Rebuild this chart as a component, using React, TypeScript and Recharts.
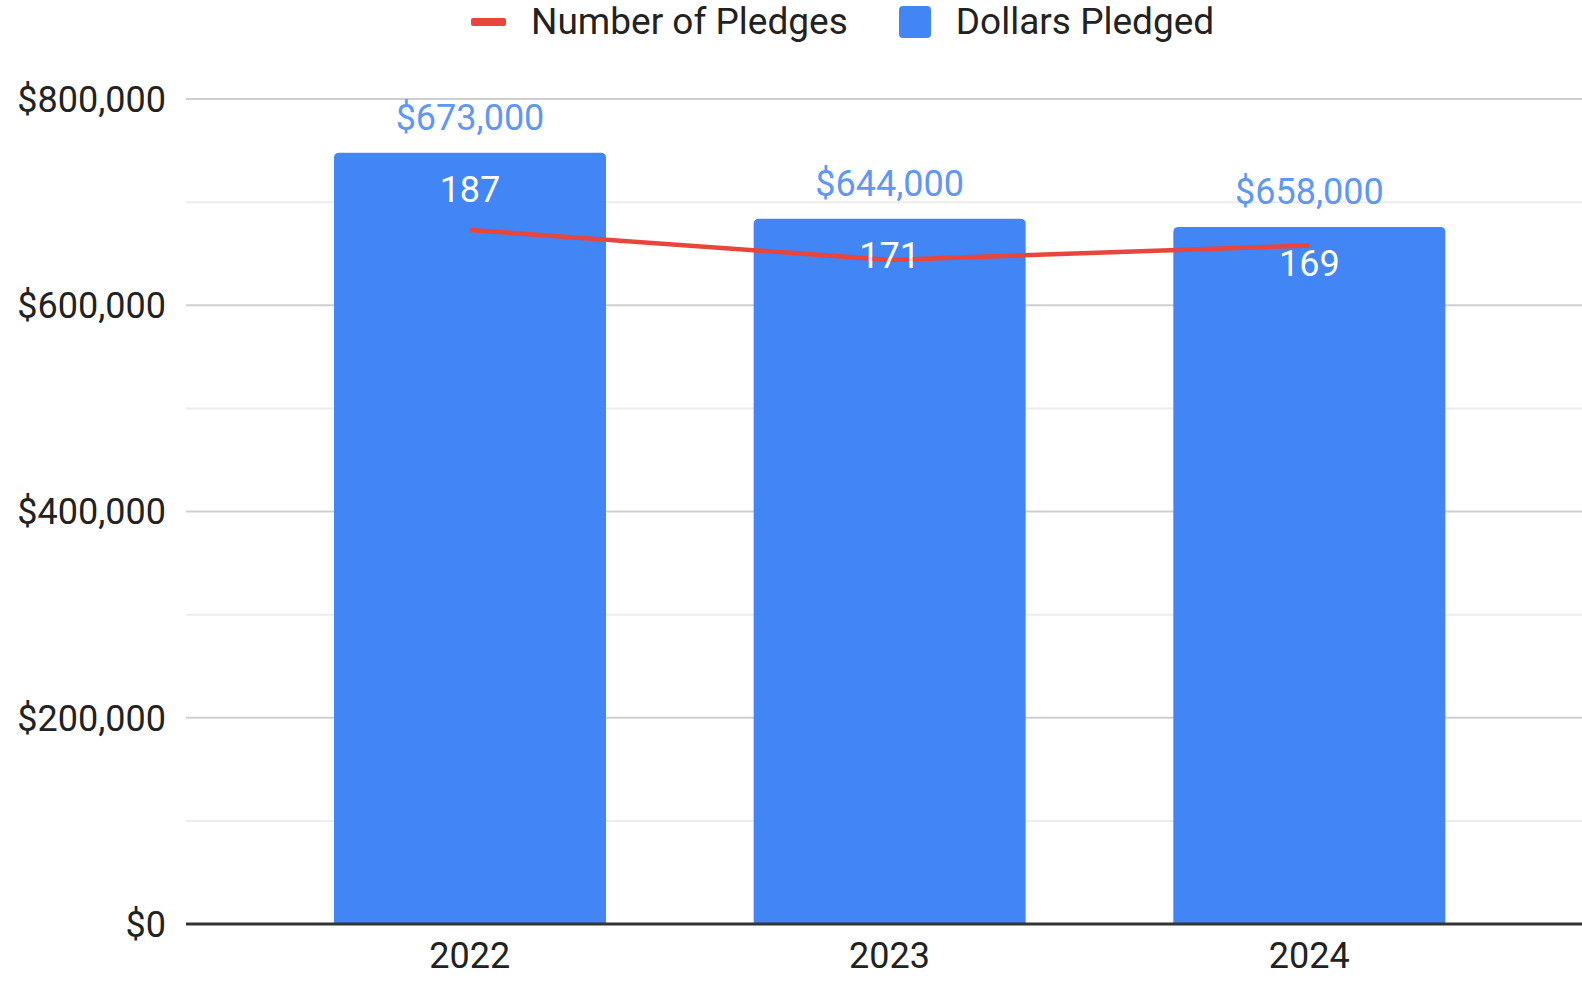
import { Bar, CartesianGrid, ComposedChart, LabelList, Line, XAxis, YAxis } from "recharts";

const years = ["2022", "2023", "2024"];
const pledgeCounts = [187, 171, 169];
const dollarsPledged = [673000, 644000, 658000];
const dollarTicks = [0, 200000, 400000, 600000, 800000];
const minorGridValues = [100000, 300000, 500000, 700000];
const legendItems = [
  { name: "Number of Pledges", color: "#e8453c", kind: "line" },
  { name: "Dollars Pledged", color: "#4285f4", kind: "box" },
];

const data = years.map((year, i) => ({ year, count: pledgeCounts[i], dollars: dollarsPledged[i] }));

const font = "Roboto, 'Noto Sans', sans-serif";
const tick = { fill: "#222", fontSize: 36, fontFamily: font };
const money = (v: number) => `$${Number(v).toLocaleString("en-US")}`;

function ChartLegend() {
  return (
    <div style={{ position: "absolute", top: 2, left: 471, display: "flex", alignItems: "center", fontFamily: font, fontSize: 37, color: "#222", lineHeight: "40px" }}>
      {legendItems.map((item, i) => (
        <div key={item.name} style={{ display: "flex", alignItems: "center", marginLeft: i === 0 ? 0 : 51 }}>
          <span style={item.kind === "line"
            ? { width: 35, height: 8, background: item.color, borderRadius: 2, marginRight: 25 }
            : { width: 32, height: 32, background: item.color, borderRadius: 4, marginRight: 25 }} />
          <span>{item.name}</span>
        </div>
      ))}
    </div>
  );
}

export default function App() {
  return (
    <div style={{ position: "relative", width: 1582, height: 981, fontFamily: font }}>
      <style>{"body{margin:0}"}</style>
      <ChartLegend />
      <ComposedChart width={1582} height={981} data={data} margin={{ top: 99, right: 0, bottom: 0, left: 0 }}>
        <CartesianGrid yAxisId="dollars" vertical={false} horizontalValues={minorGridValues} stroke="#ececec" strokeWidth={2} />
        <CartesianGrid yAxisId="dollars" vertical={false} horizontalValues={dollarTicks} stroke="#cfcfcf" strokeWidth={2} />
        <XAxis dataKey="year" height={57} padding={{ left: 74, right: 63 }} tick={tick} tickLine={false} tickSize={0} tickMargin={18} axisLine={{ stroke: "#333", strokeWidth: 3 }} />
        <YAxis yAxisId="dollars" domain={[0, 800000]} ticks={dollarTicks} tickFormatter={money} tick={tick} width={186} axisLine={false} tickLine={false} tickSize={0} tickMargin={20} />
        <YAxis yAxisId="count" orientation="right" domain={[0, 200]} hide />
        <Bar yAxisId="count" dataKey="count" name="Dollars Pledged" fill="#4285f4" barSize={272} radius={[5, 5, 0, 0]} isAnimationActive={false}>
          <LabelList dataKey="dollars" position="top" offset={23} formatter={(v: any) => money(v)} fill="#5e97f6" fontSize={36} fontFamily={font} />
          <LabelList dataKey="count" position="insideTop" offset={24} fill="#fff" fontSize={36} fontFamily={font} />
        </Bar>
        <Line yAxisId="dollars" dataKey="dollars" name="Number of Pledges" stroke="#e8453c" strokeWidth={4.5} dot={false} activeDot={false} isAnimationActive={false} />
      </ComposedChart>
    </div>
  );
}
